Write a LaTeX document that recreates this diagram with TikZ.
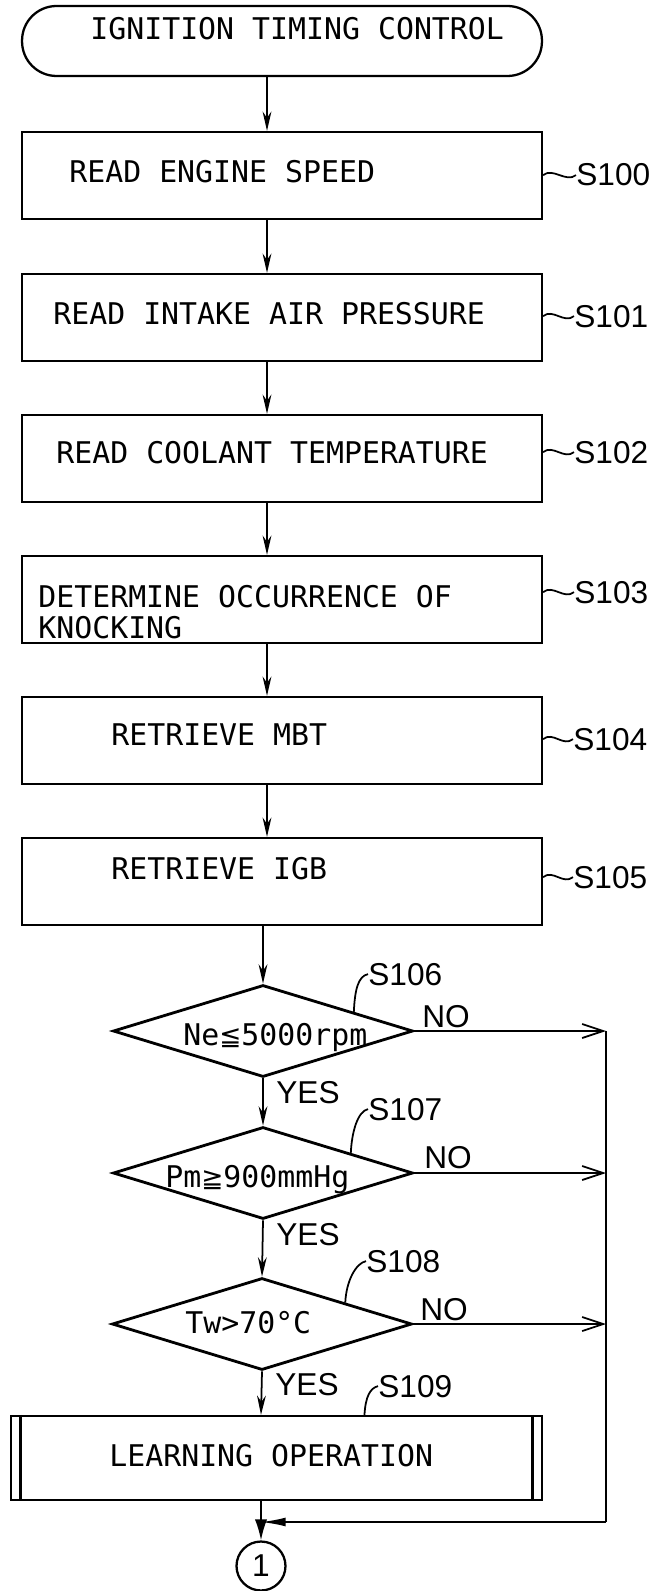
\documentclass[tikz,border=0pt]{standalone}
\usepackage{fontspec}
\usetikzlibrary{shapes.geometric,arrows.meta,calc}
\newfontfamily\boxfont{DejaVu Sans Mono}
\newfontfamily\labfont{Liberation Sans}
\newfontfamily\symfont{DejaVu Sans}

\begin{document}
\begin{tikzpicture}[x=0.02cm,y=-0.02cm,
  box/.style={draw, line width=1.3pt, minimum width=10.4cm, minimum height=1.74cm, inner sep=0pt},
  term/.style={draw, line width=1.3pt, rounded corners=0.69cm, minimum width=10.4cm, minimum height=1.4cm, inner sep=0pt},
  txt/.style={anchor=base west, inner sep=0pt, font=\boxfont\fontsize{17}{21}\selectfont},
  lab/.style={anchor=base west, inner sep=0pt, font=\labfont\fontsize{18}{20}\selectfont},
  dec/.style={draw, diamond, line width=1.6pt, minimum width=6cm, minimum height=1.84cm, inner sep=0pt},
  conn/.style={line width=1pt},
  flow/.style={conn, -{Stealth[length=11pt,width=5pt]}},
  noflow/.style={conn, -{Straight Barb[length=12pt,width=8pt]}},
  backflow/.style={conn, -{Latex[length=14pt,width=5pt]}},
  endflow/.style={conn, -{Latex[length=12pt,width=7pt]}},
  lead/.style={line width=1pt}]

\useasboundingbox (0,0) rectangle (654,1591);

% flow axes (upper steps, lower part) and the return path of the NO branches
\coordinate (ax) at (267,0);
\coordinate (bx) at (261,0);
\coordinate (rl) at (606,1522);
\coordinate (mrg) at (261,1522);

% start terminal
\node[term] (start) at (282,41) {};
\node[txt] (startt) at (90,40) {IGNITION TIMING CONTROL};

% process steps
\node[box] (s100) at (282,175.5) {};
\node[txt] (s100t) at (69,183) {READ ENGINE SPEED};
\node[lab] (l100) at (576,186) {S100};

\node[box] (s101) at (282,317.5) {};
\node[txt] (s101t) at (53,324) {READ INTAKE AIR PRESSURE};
\node[lab] (l101) at (574,327) {S101};

\node[box] (s102) at (282,458.5) {};
\node[txt] (s102t) at (56,463) {READ COOLANT TEMPERATURE};
\node[lab] (l102) at (574,463) {S102};

\node[box] (s103) at (282,599.5) {};
\node[txt] (s103t) at (38,607) {DETERMINE OCCURRENCE OF};
\node[txt] (s103u) at (38,638) {KNOCKING};
\node[lab] (l103) at (574,603) {S103};

\node[box] (s104) at (282,740.5) {};
\node[txt] (s104t) at (111,745) {RETRIEVE MBT};
\node[lab] (l104) at (573,750) {S104};

\node[box] (s105) at (282,881.5) {};
\node[txt] (s105t) at (111,879) {RETRIEVE IGB};
\node[lab] (l105) at (573,888) {S105};

\foreach \n in {100,101,102,103,104,105}
  \draw[lead] (s\n.east |- l\n.west) .. controls +(10,-8) and +(-10,8) .. (l\n.west);

% decisions
\node[dec] (d106) at (263,1031) {};
\node[txt] (d106t) at (183,1045) {Ne{\symfont\fontsize{15}{18}\selectfont ≦}5000rpm};
\node[lab] (l106) at (368,985) {S106};
\node[lab] (y106) at (276,1103) {YES};
\node[lab] (n106) at (422,1027) {NO};

\node[dec] (d107) at (263,1173) {};
\node[txt] (d107t) at (165,1187) {Pm{\symfont\fontsize{15}{18}\selectfont ≧}900mmHg};
\node[lab] (l107) at (368,1120) {S107};
\node[lab] (y107) at (276,1245) {YES};
\node[lab] (n107) at (424,1168) {NO};

\node[dec] (d108) at (262,1324) {};
\node[txt] (d108t) at (185,1333) {Tw>70°C};
\node[lab] (l108) at (366,1272) {S108};
\node[lab] (y108) at (275,1395) {YES};
\node[lab] (n108) at (420,1320) {NO};

\draw[lead] ($(d106.north)!0.6!(d106.east)$) .. controls +(1,-22) and +(-10,2) .. (l106.west);
\draw[lead] ($(d107.north)!0.58!(d107.east)$) .. controls +(1,-22) and +(-10,2) .. (l107.west);
\draw[lead] ($(d108.north)!0.55!(d108.east)$) .. controls +(1,-22) and +(-10,2) .. (l108.west);

% learning subroutine
\node[box, minimum width=10.62cm, minimum height=1.68cm] (s109) at (276.5,1458) {};
\draw[line width=1.3pt] ([xshift=0.21cm]s109.north west) -- ([xshift=0.21cm]s109.south west);
\draw[line width=1.3pt] ([xshift=-0.21cm]s109.north east) -- ([xshift=-0.21cm]s109.south east);
\node[txt] (s109t) at (109,1466) {LEARNING OPERATION};
\node[lab] (l109) at (378,1397) {S109};
\draw[lead] ($(s109.north west)!0.665!(s109.north east)$) .. controls +(1,-18) and +(-8,2) .. (l109.west);

% connector
\node[draw, circle, line width=1.3pt, minimum size=0.98cm, inner sep=0pt, font=\labfont\fontsize{18}{20}\selectfont] (c1) at (261,1566) {1};

% arrows
\draw[flow] (start.south -| ax) -- (s100.north -| ax);
\draw[flow] (s100.south -| ax) -- (s101.north -| ax);
\draw[flow] (s101.south -| ax) -- (s102.north -| ax);
\draw[flow] (s102.south -| ax) -- (s103.north -| ax);
\draw[flow] (s103.south -| ax) -- (s104.north -| ax);
\draw[flow] (s104.south -| ax) -- (s105.north -| ax);
\draw[flow] (s105.south -| d106.north) -- (d106.north);
\draw[flow] (d106.south) -- (d107.north);
\draw[flow] (d107.south) -- (d108.north);
\draw[flow] (d108.south) -- (s109.north -| bx);
\draw[endflow] (s109.south -| bx) -- (c1.north);

\draw[noflow] (d106.east) -- (d106.east -| rl);
\draw[noflow] (d107.east) -- (d107.east -| rl);
\draw[noflow] (d108.east) -- (d108.east -| rl);
\draw[conn] (d106.east -| rl) -- (rl);
\draw[backflow] (rl) -- (mrg);
\end{tikzpicture}
\end{document}
